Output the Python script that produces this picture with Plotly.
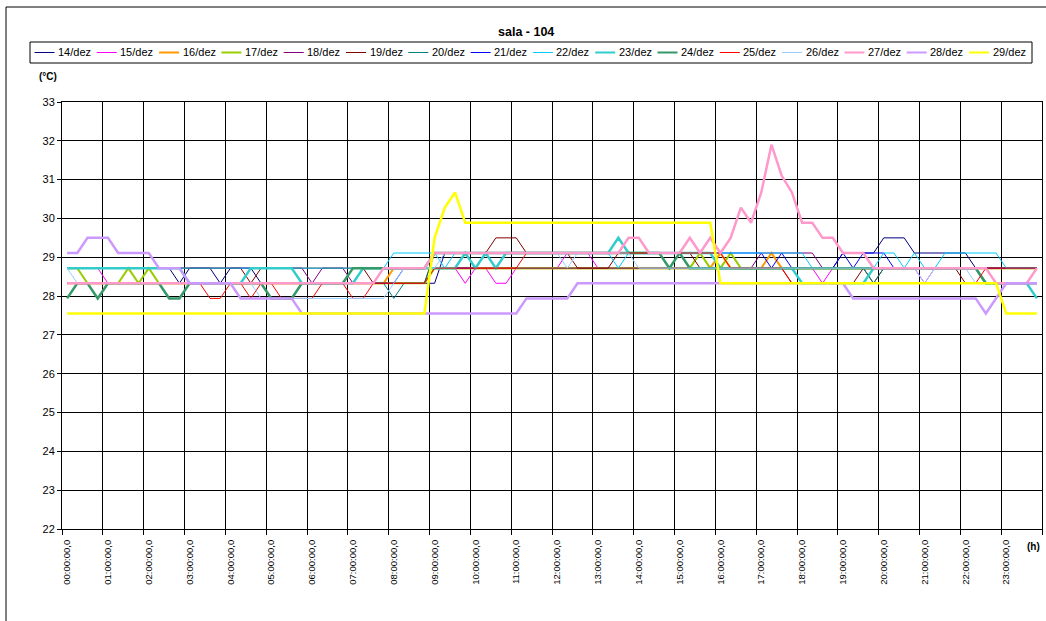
import plotly.graph_objects as go

# ---------------- data ----------------
series_names = ["14/dez", "15/dez", "16/dez", "17/dez", "18/dez", "19/dez", "20/dez", "21/dez",
                "22/dez", "23/dez", "24/dez", "25/dez", "26/dez", "27/dez", "28/dez", "29/dez"]

hour_labels = ["00:00:00,0", "01:00:00,0", "02:00:00,0", "03:00:00,0", "04:00:00,0", "05:00:00,0",
               "06:00:00,0", "07:00:00,0", "08:00:00,0", "09:00:00,0", "10:00:00,0", "11:00:00,0",
               "12:00:00,0", "13:00:00,0", "14:00:00,0", "15:00:00,0", "16:00:00,0", "17:00:00,0",
               "18:00:00,0", "19:00:00,0", "20:00:00,0", "21:00:00,0", "22:00:00,0", "23:00:00,0"]

# readings every 15 minutes (96 per day), written as (value °C, number of consecutive readings)
s14 = [(28.72, 11), (28.33, 1), (28.72, 3), (28.33, 1), (28.72, 3), (28.33, 18), (29.11, 24),
       (28.72, 15), (29.11, 4), (29.50, 3), (29.11, 6), (28.72, 7)]
s15 = [(28.72, 4), (28.33, 32), (28.72, 3), (28.33, 1), (28.72, 2), (28.33, 2), (28.72, 5), (29.11, 3),
       (28.72, 10), (29.11, 1), (28.72, 11), (28.33, 1), (28.72, 9), (28.33, 1), (28.72, 11)]
s16 = [(28.33, 32), (28.72, 32), (29.11, 1), (28.72, 4), (29.11, 1), (28.72, 26)]
s17 = [(28.72, 2), (28.33, 4), (28.72, 1), (28.33, 1), (28.72, 1), (28.33, 27), (28.72, 26), (29.11, 1),
       (28.72, 2), (29.11, 1), (28.72, 30)]
s18 = [(28.72, 24), (28.33, 1), (28.72, 3), (28.33, 1), (28.72, 39), (29.11, 6), (28.72, 22)]
s19 = [(28.72, 18), (28.33, 1), (28.72, 11), (28.33, 6), (29.11, 6), (29.50, 3), (29.11, 5), (28.72, 4),
       (29.11, 8), (28.72, 9), (28.33, 7), (28.72, 1), (28.33, 1), (28.72, 8), (28.33, 8)]
s20 = [(28.33, 32), (27.94, 1), (28.33, 3), (29.11, 25), (28.72, 18), (28.33, 1), (28.72, 10), (28.33, 6)]
s21 = [(28.33, 33), (28.72, 8), (29.11, 28), (28.72, 1), (29.11, 1), (28.72, 5), (29.11, 1), (28.72, 1),
       (29.11, 3), (28.72, 15)]
s22 = [(28.72, 32), (29.11, 5), (28.72, 1), (29.11, 16), (28.72, 1), (29.11, 18), (28.72, 7), (29.11, 2),
       (28.72, 1), (29.11, 1), (28.72, 2), (29.11, 6), (28.72, 4)]
s23 = [(28.72, 12), (28.33, 6), (28.72, 5), (28.33, 6), (28.72, 10), (29.11, 1), (28.72, 1), (29.11, 1),
       (28.72, 1), (29.11, 11), (29.50, 1), (29.11, 9), (28.72, 8), (28.33, 7), (28.72, 11), (28.33, 5),
       (27.94, 1)]
s24 = [(27.94, 1), (28.33, 2), (27.94, 1), (28.33, 6), (27.94, 2), (28.33, 8), (27.94, 3), (28.33, 5),
       (28.72, 8), (29.11, 23), (28.72, 1), (29.11, 1), (28.72, 29), (28.33, 6)]
s25 = [(28.33, 14), (27.94, 2), (28.33, 2), (27.94, 1), (28.33, 2), (27.94, 4), (28.33, 3), (27.94, 2),
       (28.33, 6), (28.72, 9), (29.11, 20), (28.72, 6), (28.33, 19), (28.72, 6)]
s26 = [(28.72, 1), (28.33, 18), (27.94, 13), (28.33, 1), (28.72, 4), (29.11, 12), (28.72, 1), (29.11, 6),
       (28.72, 28), (28.33, 1), (28.72, 4), (28.33, 7)]
s27 = [(28.33, 31), (28.72, 5), (29.11, 19), (29.50, 2), (29.11, 4), (29.50, 1), (29.11, 1), (29.50, 1),
       (29.11, 1), (29.50, 1), (30.28, 1), (29.89, 1), (30.67, 1), (31.90, 1), (31.10, 1), (30.67, 1),
       (29.89, 2), (29.50, 2), (29.11, 3), (28.72, 12), (28.33, 4), (28.72, 1)]
s28 = [(29.11, 2), (29.50, 3), (29.11, 4), (28.72, 3), (28.33, 5), (27.94, 6), (27.55, 22), (27.94, 5),
       (28.33, 27), (27.94, 13), (27.55, 1), (27.94, 1), (28.33, 4)]
s29 = [(27.55, 36), (29.50, 1), (30.28, 1), (30.67, 1), (29.89, 25), (28.33, 28), (27.55, 4)]

all_series = [s14, s15, s16, s17, s18, s19, s20, s21, s22, s23, s24, s25, s26, s27, s28, s29]

# ---------------- style ----------------
colors = ["#000080", "#FF00FF", "#FF9900", "#99CC00", "#800080", "#800000", "#008080", "#0000FF",
          "#00CCFF", "#33CCCC", "#339966", "#FF0000", "#99CCFF", "#FF99CC", "#CC99FF", "#FFFF00"]
widths = [1, 1, 2, 2, 1, 1, 1, 1, 1, 2.5, 2.5, 1, 1, 2.5, 2.5, 2.5]

FONT = "Liberation Sans, Arial, sans-serif"


def expand(runs):
    out = []
    for v, n in runs:
        out.extend([v] * n)
    return out


fig = go.Figure()
for name, runs, col, w in zip(series_names, all_series, colors, widths):
    vals = expand(runs)
    fig.add_trace(go.Scatter(x=list(range(len(vals))), y=vals, mode="lines", name=name,
                             line=dict(color=col, width=w), showlegend=False))

W, H = 1046, 621
ML, MR, MT, MB = 62, 4, 102, 92
PW, PH = W - ML - MR, H - MT - MB


def px(x):
    return (x - ML) / PW


def py(y):
    return (H - MB - y) / PH


n_pts = 4 * len(hour_labels)
fig.update_xaxes(
    range=[-0.5, n_pts - 0.5],
    tickmode="array", tickvals=[4 * k for k in range(len(hour_labels))], ticktext=hour_labels,
    tickangle=-90, tickfont=dict(family=FONT, size=9.5, color="#000"),
    ticks="outside", ticklen=6, tickcolor="rgba(0,0,0,0)",
    showgrid=False, zeroline=False,
    showline=True, linecolor="#000", linewidth=1, mirror=True,
    minor=dict(tickmode="array", tickvals=[4 * k - 0.5 for k in range(len(hour_labels) + 1)],
               ticks="outside", ticklen=5, tickcolor="#000", showgrid=True, gridcolor="#000", gridwidth=1),
)
fig.update_yaxes(
    range=[22, 33], tick0=22, dtick=1,
    tickfont=dict(family=FONT, size=11, color="#000"),
    ticks="outside", ticklen=4, tickcolor="#000",
    showgrid=True, gridcolor="#000", gridwidth=1, zeroline=False,
    showline=True, linecolor="#000", linewidth=1, mirror=True,
)

shapes = []
annotations = []
# outer chart frame
shapes.append(dict(type="rect", xref="paper", yref="paper", x0=px(6), x1=px(1050), y0=py(630), y1=py(7),
                   line=dict(color="#000", width=1), fillcolor="rgba(0,0,0,0)", layer="below"))
# legend box
shapes.append(dict(type="rect", xref="paper", yref="paper", x0=px(30), x1=px(1032), y0=py(63), y1=py(42),
                   line=dict(color="#000", width=1), fillcolor="rgba(0,0,0,0)"))
for k, (name, col, w) in enumerate(zip(series_names, colors, widths)):
    s = 34.5 + k * 62.3
    shapes.append(dict(type="line", xref="paper", yref="paper", x0=px(s), x1=px(s + 20),
                       y0=py(52.5), y1=py(52.5), line=dict(color=col, width=min(w, 2))))
    annotations.append(dict(xref="paper", yref="paper", x=px(s + 21.5), y=py(52.5), text=name,
                            showarrow=False, xanchor="left", yanchor="middle",
                            font=dict(family=FONT, size=11, color="#000")))

annotations.append(dict(xref="paper", yref="paper", x=px(526), y=py(32), text="<b>sala - 104</b>",
                        showarrow=False, xanchor="center", yanchor="middle",
                        font=dict(family=FONT, size=12.5, color="#000")))
annotations.append(dict(xref="paper", yref="paper", x=px(48), y=py(77), text="<b>(°C)</b>",
                        showarrow=False, xanchor="center", yanchor="middle",
                        font=dict(family=FONT, size=10, color="#000")))
annotations.append(dict(xref="paper", yref="paper", x=px(1033), y=py(546), text="<b>(h)</b>",
                        showarrow=False, xanchor="center", yanchor="middle",
                        font=dict(family=FONT, size=10, color="#000")))

fig.update_layout(
    width=W, height=H, autosize=False,
    margin=dict(l=ML, r=MR, t=MT, b=MB, pad=0),
    paper_bgcolor="#FFFFFF", plot_bgcolor="#FFFFFF",
    font=dict(family=FONT, color="#000"),
    shapes=shapes, annotations=annotations,
    showlegend=False,
)

fig.write_html("out.html", config={"displayModeBar": False},
               post_script="document.body.style.margin='0';document.body.style.overflow='hidden';")
